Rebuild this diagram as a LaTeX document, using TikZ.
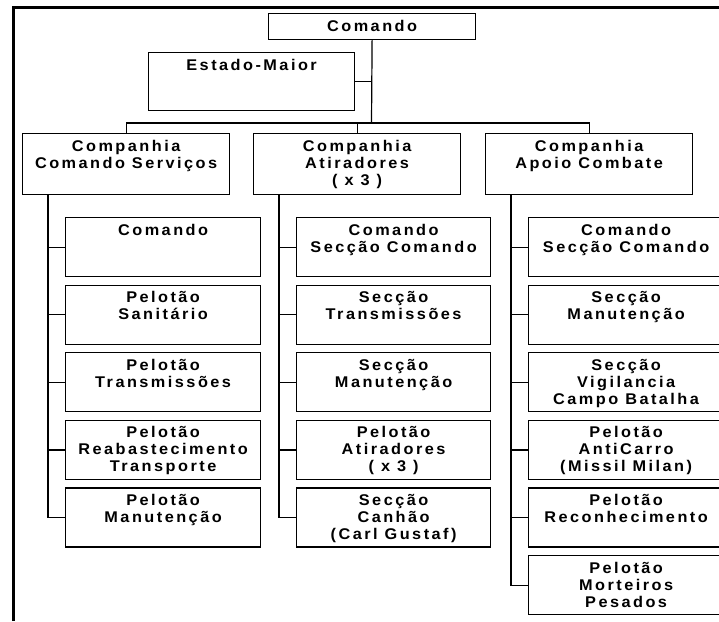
\documentclass[tikz,border=0pt]{standalone}
\usepackage{fontspec}
\setmainfont{Liberation Sans}[FakeStretch=1.05,LetterSpace=16,UprightFont=*-Bold]
\tikzset{unit/.style={draw,line width=1.2pt,anchor=north west,inner sep=0pt},
	link/.style={line width=1.2pt}}
\newcommand{\unitbox}[3]{\parbox[t][#2][t]{#1}{\centering\rule{0pt}{17.5pt}#3}}

\begin{document}
\begin{tikzpicture}[x=1pt,y=-1pt,font=\fontsize{15.5}{17}\selectfont]
			\useasboundingbox (0,0) rectangle (719,621);
			\draw[line width=3pt] (13.5,621) -- (13.5,7.5) -- (719,7.5);
			\node[unit] (cmd) at (268,13) {\unitbox{207pt}{26pt}{Comando}};
			\node[unit] (em) at (148,52) {\unitbox{206pt}{58pt}{Estado-Maior}};
			\node[unit] (ccs) at (22,133) {\unitbox{207pt}{61pt}{Companhia\\Comando Serviços}};
			\node[unit] (atir) at (253,133) {\unitbox{207pt}{61pt}{Companhia\\Atiradores\\( x 3 )}};
			\node[unit] (apoio) at (485,133) {\unitbox{207pt}{61pt}{Companhia\\Apoio Combate}};
			\coordinate (bus) at (371.5,123);
			\draw[link] (cmd.south) -- (bus);
			\draw[link] (em.east) -- (em.east -| bus);
			\draw[link] (ccs.north) |- (bus) -| (apoio.north);
			\draw[link] (atir.north) -- (atir.north |- bus);
			\foreach \txt [count=\i] in {{Comando},{Pelotão\\Sanitário},{Pelotão\\Transmissões},{Pelotão\\Reabastecimento\\Transporte},{Pelotão\\Manutenção}}
			\node[unit] (ccs\i) at (65,{217+67.6*(\i-1)}) {\unitbox{195pt}{59pt}{\txt}};
			\foreach \txt [count=\i] in {{Comando\\Secção Comando},{Secção\\Transmissões},{Secção\\Manutenção},{Pelotão\\Atiradores\\( x 3 )},{Secção\\Canhão\\(Carl Gustaf)}}
			\node[unit] (atir\i) at (296,{217+67.6*(\i-1)}) {\unitbox{194pt}{59pt}{\txt}};
			\foreach \txt [count=\i] in {{Comando\\Secção Comando},{Secção\\Manutenção},{Secção\\Vigilancia\\Campo Batalha},{Pelotão\\AntiCarro\\(Missil Milan)},{Pelotão\\Reconhecimento},{Pelotão\\Morteiros\\Pesados}}
			\node[unit] (apoio\i) at (528,{217+67.6*(\i-1)}) {\unitbox{195pt}{59pt}{\txt}};
			\draw[link] ([xshift=26pt]ccs.south west) |- (ccs5.west);
			\draw[link] ([xshift=26pt]atir.south west) |- (atir5.west);
			\draw[link] ([xshift=26pt]apoio.south west) |- (apoio6.west);
			\foreach \i in {1,...,4}
			\draw[link] (ccs\i.west) -- ++(-17,0) (atir\i.west) -- ++(-17,0);
			\foreach \i in {1,...,5}
			\draw[link] (apoio\i.west) -- ++(-17,0);
		\end{tikzpicture}
\end{document}
